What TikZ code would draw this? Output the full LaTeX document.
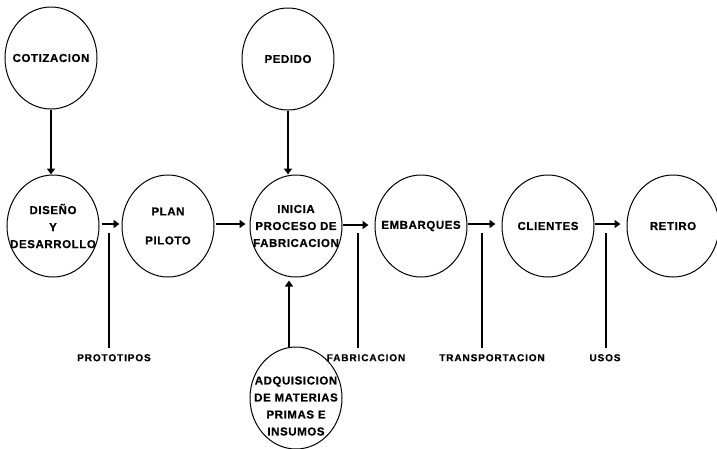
\documentclass[tikz,border=0pt]{standalone}
\usepackage{fontspec}
\setmainfont{Liberation Sans}
\usetikzlibrary{shapes.geometric,arrows.meta}
\begin{document}
\begin{tikzpicture}[x=1pt,y=-1pt,
    circ/.style={ellipse,draw,line width=1pt,minimum width=92pt,minimum height=102pt,inner sep=0pt},
    txt/.style={align=center,font=\fontsize{11.5}{17}\bfseries\addfontfeatures{LetterSpace=5,FakeBold=0.6}},
    etiq/.style={anchor=north,inner sep=1pt,font=\fontsize{10}{11}\bfseries\addfontfeatures{LetterSpace=9,FakeBold=0.6}},
    flecha/.style={line width=2.5pt,-{Triangle[length=6pt,width=8pt]}},
    linea/.style={line width=2.5pt}]
            \useasboundingbox (0,0) rectangle (717,448);

            \node[circ,label={[txt]center:COTIZACION}] (A) at (51,58) {};
            \node[circ,label={[txt]center:PEDIDO}] (B) at (288,59) {};
            \node[circ,label={[txt]center:DISEÑO\\Y\\DESARROLLO}] (C) at (53,226) {};
            \node[circ,label={[txt]center:PLAN\\[12pt]PILOTO}] (D) at (168,226) {};
            \node[circ,label={[txt]center:INICIA\\PROCESO DE\\FABRICACION}] (E) at (296,226) {};
            \node[circ,label={[txt]center:EMBARQUES}] (F) at (421,226) {};
            \node[circ,label={[txt]center:CLIENTES}] (G) at (548,226) {};
            \node[circ,label={[txt]center:RETIRO}] (H) at (673,226) {};
            \node[circ,label={[txt,yshift=-8pt]center:ADQUISICION\\DE MATERIAS\\PRIMAS E\\INSUMOS}] (I) at (296,398) {};

            \node[etiq] (J) at (114,353) {PROTOTIPOS};
            \node[etiq] (K) at (366,353) {FABRICACION};
            \node[etiq] (L) at (492,353) {TRANSPORTACION};
            \node[etiq] (M) at (605,353) {USOS};

            \coordinate (N) at (109,233);
            \coordinate (O) at (358,233);
            \coordinate (P) at (482,233);
            \coordinate (Q) at (606,233);

            \draw[flecha] (A.south) -- (A.south |- C.north);
            \draw[flecha] (B.south) -- (B.south |- E.north);
            \draw[flecha,shorten >=3pt] ([xshift=-7pt]I.north) -- ([xshift=-7pt]I.north |- E.south);

            \draw[flecha,shorten <=2pt,shorten >=2pt] ([yshift=2pt]C.east) -- ([yshift=2pt]D.west);
            \draw[flecha,shorten <=1pt,shorten >=4pt] ([yshift=2pt]D.east) -- ([yshift=2pt]E.west);
            \draw[flecha,shorten >=6pt] ([yshift=1pt]E.east) -- ([yshift=1pt]F.west);
            \draw[flecha,shorten >=6pt] ([yshift=2pt]F.east) -- ([yshift=2pt]G.west);
            \draw[flecha,shorten >=6pt] ([yshift=2pt]G.east) -- ([yshift=2pt]H.west);

            \draw[linea,shorten >=5pt] (N) -- (N |- J.north);
            \draw[linea,shorten >=5pt] (O) -- (O |- K.north);
            \draw[linea,shorten >=5pt] (P) -- (P |- L.north);
            \draw[linea,shorten >=5pt] (Q) -- (Q |- M.north);
\end{tikzpicture}
\end{document}
